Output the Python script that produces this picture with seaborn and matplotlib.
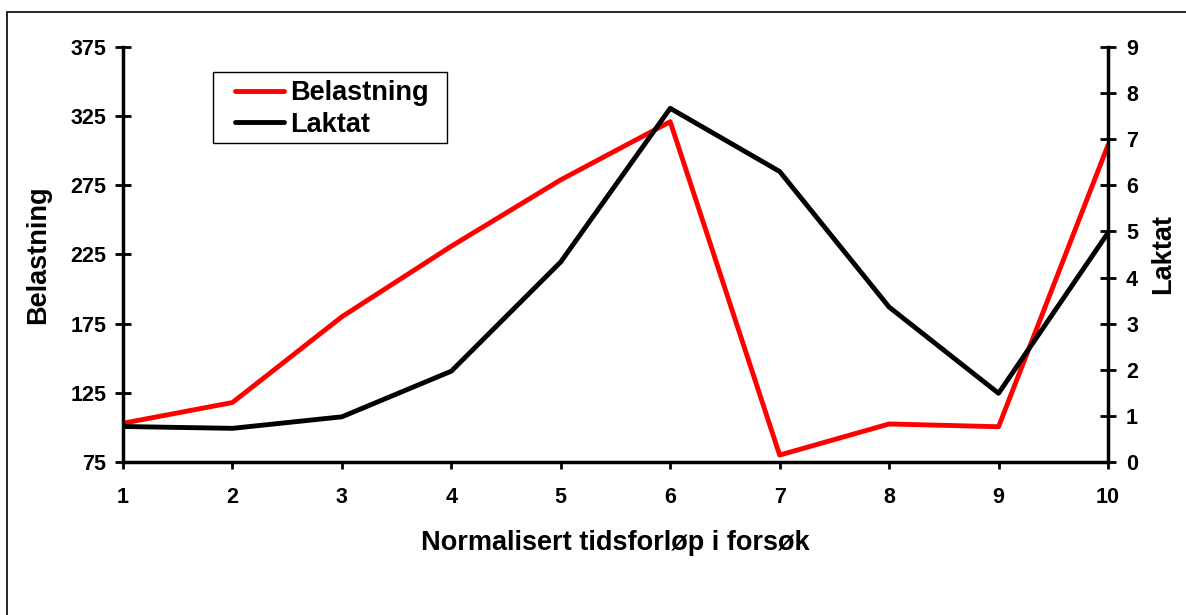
import matplotlib
matplotlib.use("Agg")
import matplotlib.pyplot as plt
import seaborn as sns
import pandas as pd
from matplotlib.patches import Rectangle

sns.set_style("white")
plt.rcParams['font.family'] = ['Liberation Sans', 'DejaVu Sans']
plt.rcParams['font.weight'] = 'bold'
plt.rcParams['text.color'] = 'black'
plt.rcParams['axes.labelcolor'] = 'black'
plt.rcParams['xtick.color'] = 'black'
plt.rcParams['ytick.color'] = 'black'

tid = [1, 2, 3, 4, 5, 6, 7, 8, 9, 10]
belastning = [103, 118, 180, 231, 279, 321, 80, 102.5, 100.5, 304]
laktat = [0.77, 0.73, 0.98, 1.97, 4.34, 7.67, 6.3, 3.36, 1.49, 4.97]
left_ticks = [75, 125, 175, 225, 275, 325, 375]
right_ticks = [0, 1, 2, 3, 4, 5, 6, 7, 8, 9]

df = pd.DataFrame({"tid": tid, "Belastning": belastning, "Laktat": laktat})

W, H = 1186, 615
fig = plt.figure(figsize=(W / 100, H / 100), dpi=100)
ax = fig.add_axes([123/W, 1-462/H, (1108-123)/W, (462-47)/H])
ax2 = ax.twinx()

sns.lineplot(data=df, x="tid", y="Belastning", ax=ax, color="#ff0000", lw=3.5, label="Belastning", legend=False)
sns.lineplot(data=df, x="tid", y="Laktat", ax=ax2, color="#000000", lw=3.5, label="Laktat", legend=False)

ax.set_xlim(1, 10)
ax.set_ylim(75, 375)
ax2.set_ylim(0, 9)
ax.set_xticks(tid)
ax.set_yticks(left_ticks)
ax2.set_yticks(right_ticks)

for a in (ax, ax2):
    for s in a.spines.values():
        s.set_visible(False)
    a.grid(False)
ax.spines['left'].set_visible(True)
ax.spines['bottom'].set_visible(True)
ax2.spines['right'].set_visible(True)
for s in (ax.spines['left'], ax.spines['bottom'], ax2.spines['right']):
    s.set_linewidth(2.5)
    s.set_color('black')

ax.tick_params(axis='y', direction='inout', length=12, width=2, labelsize=15.5, pad=6, left=True, colors='black')
ax.tick_params(axis='x', direction='out', length=5, width=2, labelsize=15.5, pad=13, bottom=True, colors='black')
ax2.tick_params(axis='y', direction='inout', length=12, width=2, labelsize=15.5, pad=7, right=True, colors='black')
for lab in ax.get_xticklabels() + ax.get_yticklabels() + ax2.get_yticklabels():
    lab.set_fontweight('bold')

ax.set_xlabel("Normalisert tidsforløp i forsøk", fontsize=19.5, fontweight='bold', labelpad=16)
ax.set_ylabel("Belastning", fontsize=19.5, fontweight='bold', labelpad=14)
ax2.set_ylabel("Laktat", fontsize=19.5, fontweight='bold', labelpad=9)

h1, l1 = ax.get_legend_handles_labels()
h2, l2 = ax2.get_legend_handles_labels()
leg = ax2.legend(h1 + h2, l1 + l2, loc='upper left', bbox_to_anchor=(235/W, 1-80/H),
                 bbox_transform=fig.transFigure,
                 frameon=False, prop={'size': 19.5, 'weight': 'bold'},
                 handlelength=1.8, handletextpad=0.25,
                 borderpad=0, labelspacing=0.22, borderaxespad=0)
fig.patches.append(Rectangle((213/W, 1-143/H), (447-213)/W, (143-72)/H, transform=fig.transFigure,
                             fill=False, edgecolor='black', linewidth=1.0, zorder=5))

fig.patches.append(Rectangle((7/W, -0.1), 1.2, 1-12/H+0.1, transform=fig.transFigure,
                             fill=False, edgecolor='black', linewidth=1.2))

fig.savefig("out.png", dpi=100)
